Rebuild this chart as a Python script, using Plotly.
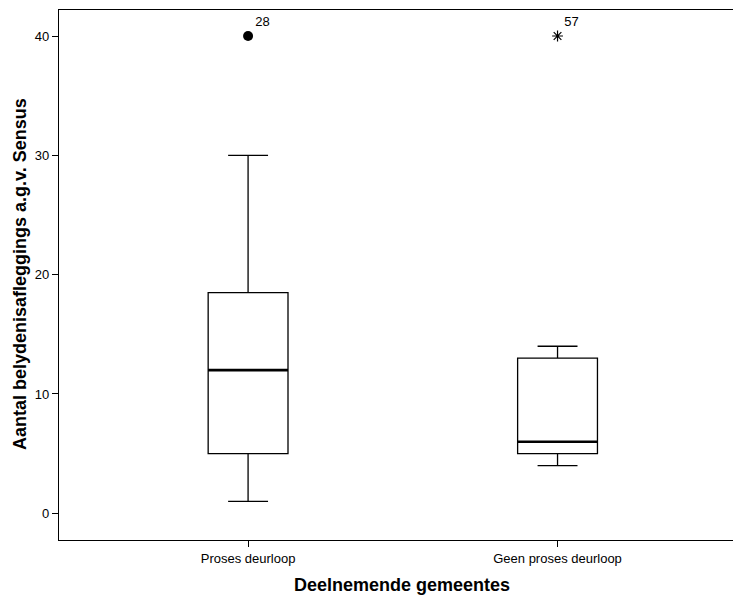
import plotly.graph_objects as go

# box statistics
groups = ["Proses deurloop", "Geen proses deurloop"]
positions = [1, 2]
lower_whisker = [1, 4]
q1 = [5, 5]
medians = [12, 6]
q3 = [18.5, 13]
upper_whisker = [30, 14]

# flagged cases
outlier_x = [1]
outlier_y = [40]
outlier_label = ["28"]
extreme_x = [2]
extreme_y = [40]
extreme_label = ["57"]

box_width = 0.258
font_family = "Liberation Sans, Arial, sans-serif"

fig = go.Figure()

for i in range(len(groups)):
    fig.add_trace(go.Box(
        x=[positions[i]],
        q1=[q1[i]],
        median=[medians[i]],
        q3=[q3[i]],
        lowerfence=[lower_whisker[i]],
        upperfence=[upper_whisker[i]],
        width=box_width,
        whiskerwidth=0.5,
        fillcolor="white",
        line=dict(color="black", width=1.3),
        boxpoints=False,
        hoverinfo="skip",
        showlegend=False,
    ))
    # thicker median line, SPSS style
    fig.add_trace(go.Scatter(
        x=[positions[i] - box_width / 2, positions[i] + box_width / 2],
        y=[medians[i], medians[i]],
        mode="lines",
        line=dict(color="black", width=2.6),
        hoverinfo="skip",
        showlegend=False,
    ))

fig.add_trace(go.Scatter(
    x=outlier_x, y=outlier_y,
    mode="markers+text",
    marker=dict(symbol="circle", size=10, color="black"),
    text=outlier_label,
    textposition="top right",
    textfont=dict(family=font_family, size=13, color="black"),
    showlegend=False,
))

fig.add_trace(go.Scatter(
    x=extreme_x, y=extreme_y,
    mode="markers+text",
    marker=dict(symbol="asterisk-open", size=9, color="black",
                line=dict(color="black", width=1.2)),
    text=extreme_label,
    textposition="top right",
    textfont=dict(family=font_family, size=13, color="black"),
    showlegend=False,
))

fig.update_layout(
    width=733,
    height=595,
    margin=dict(l=59, r=0, t=10, b=55, autoexpand=False),
    plot_bgcolor="white",
    paper_bgcolor="white",
    font=dict(family=font_family, size=13, color="black"),
    xaxis=dict(
        range=[0.389, 2.567],
        tickvals=positions,
        ticktext=groups,
        ticks="outside",
        ticklen=6,
        tickcolor="black",
        showline=True,
        linecolor="black",
        linewidth=1.3,
        mirror=True,
        showgrid=False,
        zeroline=False,
        automargin=False,
    ),
    yaxis=dict(
        range=[-2.24, 42.18],
        tickvals=[0, 10, 20, 30, 40],
        ticks="outside",
        ticklen=6,
        tickcolor="black",
        showline=True,
        linecolor="black",
        linewidth=1.3,
        showgrid=False,
        zeroline=False,
        automargin=False,
    ),
    annotations=[
        dict(text="<b>Deelnemende gemeentes</b>", xref="paper", yref="paper",
             x=0.509, y=0, xanchor="center", yanchor="middle", yshift=-45,
             showarrow=False, font=dict(size=18, family=font_family)),
        dict(text="<b>Aantal belydenisafleggings a.g.v. Sensus</b>",
             xref="paper", yref="paper", x=0, y=0.502, textangle=-90,
             xanchor="center", yanchor="middle", xshift=-39,
             showarrow=False, font=dict(size=18, family=font_family)),
    ],
)

# drop the default page margin so the figure sits at the window's corner
fig.write_html("out.html", config={"displayModeBar": False},
               post_script="document.body.style.margin='0';")
